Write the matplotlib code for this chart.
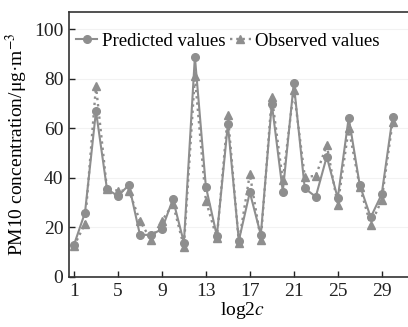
import numpy as np
import matplotlib.pyplot as plt

plt.rcParams['font.family'] = ['Liberation Serif', 'DejaVu Serif']
plt.rcParams['mathtext.fontset'] = 'stix'

# sample index (log2c) and concentrations
idx = list(range(1, 31))
predicted = [13, 26, 67, 35.5, 32.7, 37.2, 17, 17, 19.3, 31.4,
             13.9, 89, 36.5, 16.6, 61.7, 14.7, 34.2, 17, 70, 34.5,
             78.2, 35.8, 32.4, 48.6, 31.8, 64.4, 37.2, 24.1, 33.4, 64.8]
observed = [12.5, 21.5, 77.2, 35.5, 34.9, 34.9, 22.6, 15, 22.6, 29.5,
            12.3, 81, 30.8, 15.6, 65.5, 13.9, 41.6, 15, 72.8, 39,
            75.5, 40.5, 40.8, 53.3, 29.1, 60.1, 36.5, 21, 31.1, 62.8]
xticks = [1, 5, 9, 13, 17, 21, 25, 29]
yticks = [0, 20, 40, 60, 80, 100]

col = '#8e8e8e'

fig = plt.figure(figsize=(4.08, 3.27), dpi=100)
ax = fig.add_axes([0.169, 0.153, 0.85, 0.81])

ax.plot(idx, predicted, color=col, linestyle='-', linewidth=1.5,
        marker='o', markersize=5.5, label='Predicted values')
ax.plot(idx, observed, color=col, linestyle=':', linewidth=1.7,
        marker='^', markersize=5.5, label='Observed values')

ax.set_xlim(0.54, 32.1)
ax.set_ylim(0, 107)
ax.set_xticks(xticks)
ax.set_yticks(yticks)
ax.tick_params(direction='in', labelsize=14, length=4, width=1, colors='#222222', pad=4)
ax.yaxis.grid(True, color='#f2f2f2', linewidth=0.8)
ax.set_axisbelow(True)
for s in ax.spines.values():
    s.set_linewidth(1.2)
    s.set_color('#333333')

ax.set_xlabel('log2$c$', fontsize=14, labelpad=0)
ax.set_ylabel('PM10 concentration/μg·m$^{-3}$', fontsize=14, labelpad=3)

ax.legend(loc='upper left', bbox_to_anchor=(0.0, 0.95), ncol=2, frameon=False,
          fontsize=13.5, handlelength=1.1, handletextpad=0.25, columnspacing=0.25,
          borderaxespad=0.2, borderpad=0.2)

fig.savefig('out.png', dpi=100)
